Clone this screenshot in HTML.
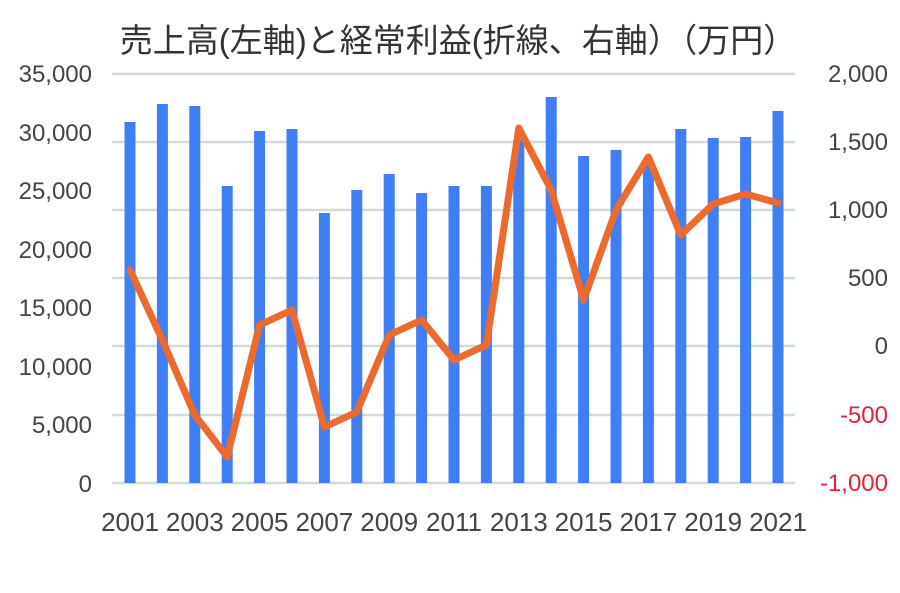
<!DOCTYPE html>
<html><head><meta charset="utf-8"><style>
body{margin:0;background:#fff;}
text{font-family:"Liberation Sans","Noto Sans CJK JP",sans-serif;}
</style></head><body>
<svg width="900" height="588" viewBox="0 0 900 588" xmlns="http://www.w3.org/2000/svg">
<rect width="900" height="588" fill="#fff"/>
<text x="458" y="52" font-size="33" text-anchor="middle" fill="#333">売上高(左軸)と経常利益(折線、右軸）（万円）</text>
<g stroke="#d3dada" stroke-width="2.5">
<line x1="112" x2="795" y1="74" y2="74"/><line x1="112" x2="795" y1="142" y2="142"/>
<line x1="112" x2="795" y1="210" y2="210"/><line x1="112" x2="795" y1="278" y2="278"/>
<line x1="112" x2="795" y1="346" y2="346"/><line x1="112" x2="795" y1="415" y2="415"/>
<line x1="112" x2="795" y1="483" y2="483"/>
</g>
<g fill="#3f7ef5" id="bars"></g>
<g font-size="24" fill="#444" text-anchor="end">
<text x="92" y="82">35,000</text><text x="92" y="141">30,000</text><text x="92" y="199">25,000</text>
<text x="92" y="258">20,000</text><text x="92" y="316">15,000</text><text x="92" y="375">10,000</text>
<text x="92" y="433">5,000</text><text x="92" y="492">0</text>
</g>
<g font-size="24" fill="#444" text-anchor="end">
<text x="888" y="82">2,000</text><text x="888" y="150">1,500</text><text x="888" y="218">1,000</text>
<text x="888" y="286">500</text><text x="888" y="354">0</text>
<text x="888" y="423" fill="#e8203a">-500</text><text x="888" y="491" fill="#e8203a">-1,000</text>
</g>
<g font-size="26" fill="#444" text-anchor="middle" id="xl"></g>
<polyline id="ln" fill="none" stroke="#ed6a2f" stroke-width="7" stroke-linejoin="round" stroke-linecap="round"/>
<script>
var tops=[122,104,106,186,131,129,213,190,174,193,186,186,140,97,156,150,165,129,138,137,111];
var ly=[270,340,415,457,325,310,427,412,335,320,360,345,128,190,300,210,157,235,204,194,203];
var b=document.getElementById('bars'),pts=[],ns="http://www.w3.org/2000/svg";
for(var i=0;i<21;i++){var cx=130+i*32.4;
var r=document.createElementNS(ns,'rect');r.setAttribute('x',cx-5.5);r.setAttribute('y',tops[i]);r.setAttribute('width',11);r.setAttribute('height',483-tops[i]);b.appendChild(r);
pts.push(cx+','+ly[i]);
if(i%2==0){var t=document.createElementNS(ns,'text');t.setAttribute('x',cx);t.setAttribute('y',531);t.textContent=2001+i;document.getElementById('xl').appendChild(t);}}
document.getElementById('ln').setAttribute('points',pts.join(' '));
</script>
</svg>
</body></html>
